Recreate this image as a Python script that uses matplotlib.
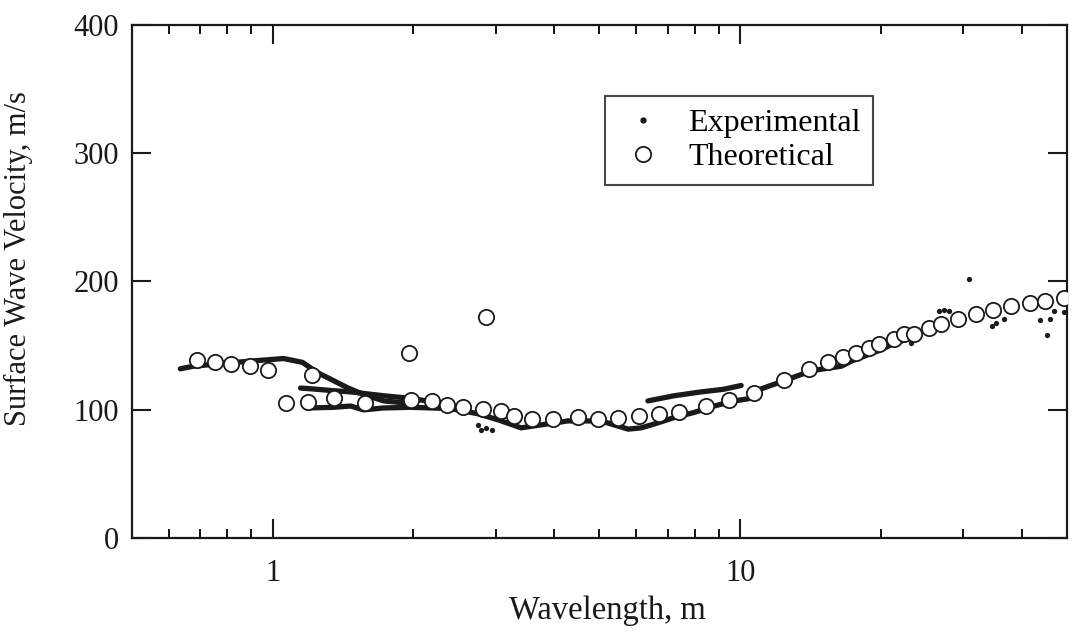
import numpy as np
import matplotlib
matplotlib.use('Agg')
import matplotlib.pyplot as plt
from matplotlib.ticker import LogLocator, FixedLocator, FixedFormatter, NullFormatter

plt.rcParams['font.family'] = ['Liberation Serif', 'DejaVu Serif']

# Theoretical dispersion curve (wavelength m, velocity m/s)
theo_x = [0.691, 0.755, 0.817, 0.893, 0.976, 1.071, 1.188, 1.212, 1.351, 1.574,
          1.955, 1.975, 2.19, 2.36, 2.56, 2.82, 2.86, 3.08, 3.28, 3.59,
          3.98, 4.50, 4.97, 5.48, 6.08, 6.71, 7.40, 8.46, 9.47, 10.71,
          12.42, 14.05, 15.4, 16.6, 17.7, 18.9, 19.8, 21.3, 22.4, 23.5,
          25.3, 26.9, 29.3, 32.0, 34.8, 38.0, 41.6, 44.8, 49.2]
theo_y = [139, 137.5, 136, 134, 131, 105, 106, 127, 109, 105.5,
          144.5, 108, 107, 104, 102, 101, 172.7, 99, 95, 93,
          93, 94.5, 93, 94, 95, 97, 98.5, 103, 108, 113,
          123, 132, 137, 141, 144.5, 148, 151, 155, 159, 159,
          164, 167, 171, 175, 178, 181, 183.5, 185, 187]

# Experimental dispersion branches (dense measured points, traced)
expA_x = [0.635, 0.677, 0.774, 0.897, 1.056, 1.159, 1.248, 1.330, 1.451, 1.566, 1.728, 1.975]
expA_y = [132, 134, 136, 138, 140, 137, 129, 124, 117, 112, 107, 105]
expB_x = [1.148, 1.248, 1.344, 1.469, 1.728, 1.975, 2.405]
expB_y = [117, 116, 115, 114, 111, 109, 104]
expC_x = [1.188, 1.351, 1.469, 1.566, 1.728, 1.975, 2.405, 2.748, 3.05, 3.40, 3.62,
          4.28, 5.04, 5.76, 6.14, 6.55, 7.22, 7.97, 8.80, 9.71, 10.40,
          11.09, 12.42, 14.19, 16.45, 17.29, 19.75, 21.4, 23.0]
expC_y = [101.5, 102, 103, 100, 101.5, 102, 101, 97, 92, 86, 87.5,
          91.4, 91.4, 85, 86, 89, 94, 98, 103, 107, 108.6,
          116.4, 122.7, 130.5, 134, 138, 146, 152, 155.5]
expD_x = [6.35, 7.22, 8.25, 9.2, 10.05]
expD_y = [107, 111, 114, 116, 119]
# scattered experimental points
expS_x = [2.75, 2.79, 2.86, 2.95, 23.2, 26.6, 27.3, 28.0, 30.9, 34.5, 35.3, 36.6,
          43.7, 45.2, 45.9, 46.8, 49.2]
expS_y = [88, 84, 86, 84, 152, 177, 178, 177, 201.6, 165.6, 168, 171,
          170, 158.6, 171, 177, 176]

ink = '#1a1a1a'

fig = plt.figure(figsize=(10.8, 6.34), dpi=100)
ax = fig.add_axes([0.122, 0.151, 0.866, 0.810])

for bx, by in [(expA_x, expA_y), (expB_x, expB_y), (expC_x, expC_y), (expD_x, expD_y)]:
    ax.plot(bx, by, '-', color=ink, lw=3.8, solid_capstyle='round', zorder=2)
ax.plot(expS_x, expS_y, 'o', color=ink, ms=3.8, mew=0, zorder=2)
ax.plot([], [], '.', color=ink, ms=7, label='Experimental')
ax.plot(theo_x, theo_y, 'o', mfc='white', mec=ink, ms=11, mew=1.3,
        ls='none', zorder=3, label='Theoretical')

ax.set_xscale('log')
ax.set_xlim(0.5, 50)
ax.set_ylim(0, 400)
ax.xaxis.set_major_locator(FixedLocator([1, 10]))
ax.xaxis.set_major_formatter(FixedFormatter(['1', '10']))
ax.xaxis.set_minor_locator(LogLocator(base=10, subs=np.arange(2, 10)))
ax.xaxis.set_minor_formatter(NullFormatter())
ax.set_yticks([0, 100, 200, 300, 400])

ax.tick_params(which='major', direction='in', length=14, width=1.5,
               top=True, right=True, labelsize=22, colors=ink)
ax.tick_params(axis='x', which='major', pad=15)
ax.tick_params(axis='y', which='major', pad=9)
ax.tick_params(which='minor', direction='in', length=6.5, width=1.3,
               top=True, right=True)
for s in ax.spines.values():
    s.set_linewidth(1.6)
    s.set_color(ink)

ax.set_xlabel('Wavelength, m', fontsize=23.5, color=ink)
ax.xaxis.set_label_coords(0.509, -0.111)
ax.set_ylabel('Surface Wave Velocity, m/s', fontsize=22, color=ink)
ax.yaxis.set_label_coords(-0.106, 0.544)

leg = ax.legend(loc='upper right', bbox_to_anchor=(0.793, 0.862), fontsize=23,
                frameon=True, fancybox=False, handletextpad=0.6,
                borderpad=0.4, labelspacing=0.15, handlelength=1.6,
                borderaxespad=0)
leg.get_frame().set_edgecolor(ink)
leg.get_frame().set_linewidth(1.5)

fig.savefig('out.png', dpi=100)
